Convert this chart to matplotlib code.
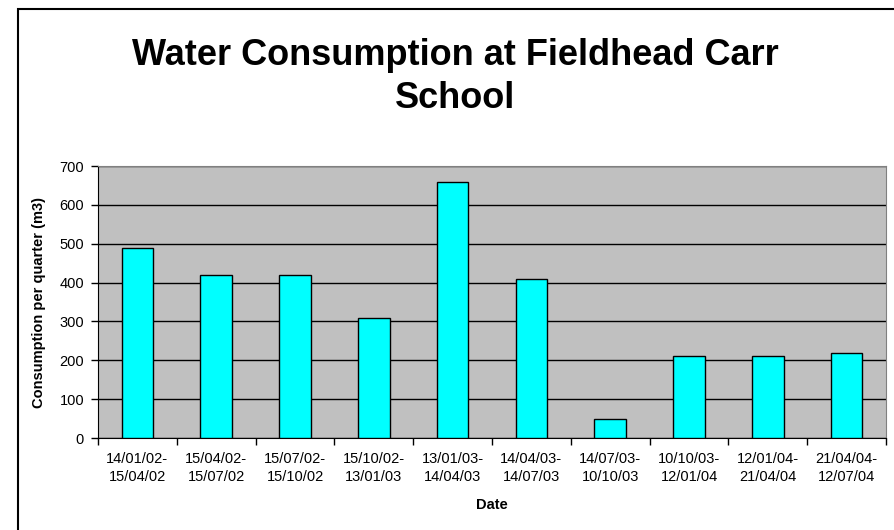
import numpy as np
import matplotlib.pyplot as plt
from matplotlib.patches import Rectangle

# 數據
periods = ['14/01/02-\n15/04/02', '15/04/02-\n15/07/02', '15/07/02-\n15/10/02',
           '15/10/02-\n13/01/03', '13/01/03-\n14/04/03', '14/04/03-\n14/07/03',
           '14/07/03-\n10/10/03', '10/10/03-\n12/01/04', '12/01/04-\n21/04/04',
           '21/04/04-\n12/07/04']
consumption = [490, 420, 420, 310, 660, 410, 50, 210, 210, 220]

plt.rcParams['font.family'] = ['Liberation Sans', 'DejaVu Sans']

fig = plt.figure(figsize=(8.95, 5.30), dpi=100)
ax = fig.add_axes([98 / 895, 1 - 438 / 530, 788 / 895, 272 / 530])

x = np.arange(len(consumption))
ax.bar(x, consumption, width=0.4, color='#00FFFF', edgecolor='black', linewidth=1, zorder=3)

ax.set_facecolor('#C0C0C0')
ax.set_xlim(-0.5, len(consumption) - 0.5)
ax.set_ylim(0, 700)
ax.set_yticks(range(0, 701, 100))
ax.yaxis.grid(True, color='black', linewidth=1, zorder=1)

# 類別標籤在中間，刻度在邊界
ax.set_xticks(x)
ax.set_xticklabels(periods, fontsize=10.5, linespacing=1.4)
ax.set_xticks(np.arange(-0.5, len(consumption)), minor=True)
ax.tick_params(axis='x', which='major', length=0, pad=10)
ax.tick_params(axis='x', which='minor', length=5, width=1, direction='out')
ax.tick_params(axis='y', length=5, width=1, direction='out', labelsize=10.5, pad=5)

for side in ['top', 'right']:
    ax.spines[side].set_color('#808080')
for side in ['left', 'bottom']:
    ax.spines[side].set_color('black')

ax.set_ylabel('Consumption per quarter (m3)', fontsize=10.5, fontweight='bold', labelpad=10)
ax.set_xlabel('Date', fontsize=10.5, fontweight='bold', labelpad=10)

fig.text(455.5 / 895, 1 - 77 / 530, 'Water Consumption at Fieldhead Carr\nSchool',
         ha='center', va='center', fontsize=26, fontweight='bold', linespacing=1.26)

# 外框
fig.patches.append(Rectangle((18 / 895, -0.1), 1.1, 1.1 - 9 / 530, transform=fig.transFigure,
                             fill=False, edgecolor='black', linewidth=1.5))

fig.savefig('out.png', dpi=100, facecolor='white')
